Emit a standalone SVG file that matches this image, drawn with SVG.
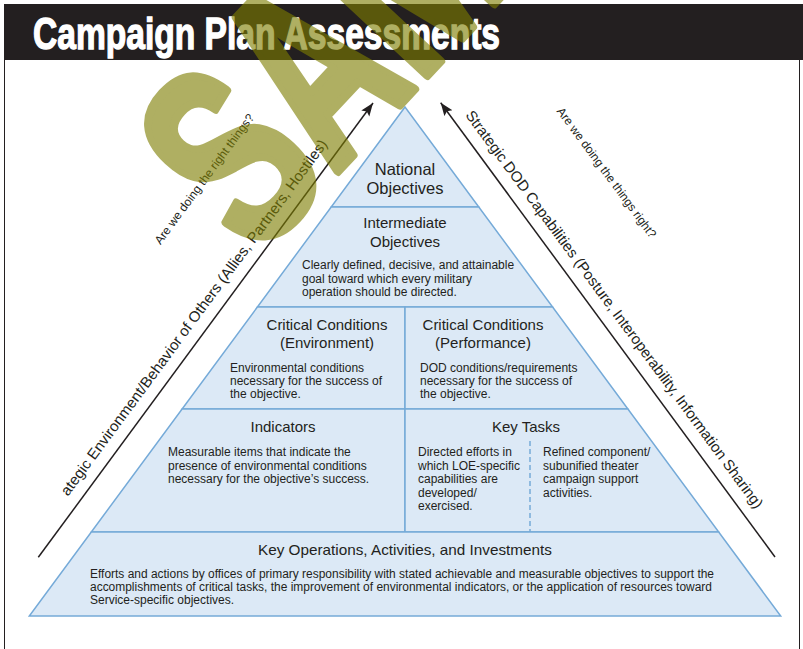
<svg xmlns="http://www.w3.org/2000/svg" width="803" height="649" viewBox="0 0 803 649">
<style>
.sec{fill:#dce9f6;stroke:#75aad8;stroke-width:1.5;stroke-linejoin:miter}
.hd{font-family:"Liberation Sans",Arial,sans-serif;font-size:15px;fill:#231f20;text-anchor:middle}
.ds{font-family:"Liberation Sans",Arial,sans-serif;font-size:12px;fill:#231f20}
.ax{font-family:"Liberation Sans",Arial,sans-serif;font-size:15px;fill:#231f20}
.q{font-family:"Liberation Sans",Arial,sans-serif;font-size:12px;fill:#231f20}
.arr{stroke:#231f20;stroke-width:1.5;fill:none;marker-end:url(#ah)}
</style>
<defs>
<marker id="ah" markerUnits="userSpaceOnUse" markerWidth="14" markerHeight="12" refX="13" refY="5" orient="auto">
<path d="M0,0 L13,5 L0,10 L2.5,5 z" fill="#231f20"/>
</marker>
</defs>
<rect width="803" height="649" fill="#ffffff"/>
<g id="frame">
<rect x="4" y="4" width="799" height="56" fill="#231f20"/>
<line x1="4.5" y1="60" x2="4.5" y2="649" stroke="#231f20" stroke-width="1"/>
<line x1="799.5" y1="60" x2="799.5" y2="649" stroke="#231f20" stroke-width="1"/>
<text x="33" y="49" font-family="'Liberation Sans',Arial,sans-serif" font-weight="bold" font-size="45" fill="#ffffff" stroke="#ffffff" stroke-width="1.4" textLength="467" lengthAdjust="spacingAndGlyphs">Campaign Plan Assessments</text>
</g>
<g id="national">
<polygon class="sec" points="405,107 331.2,207 478.8,207"/>
<text class="hd" x="405" y="175" style="font-size:16.5px">National</text>
<text class="hd" x="405" y="194" style="font-size:16.5px">Objectives</text>
</g>
<g id="intermediate">
<polygon class="sec" points="331.2,207 478.8,207 552.6,307 257.4,307"/>
<text class="hd" x="405" y="228">Intermediate</text>
<text class="hd" x="405" y="247">Objectives</text>
<text class="ds" x="302" y="269">Clearly defined, decisive, and attainable</text>
<text class="ds" x="302" y="282.5">goal toward which every military</text>
<text class="ds" x="302" y="296">operation should be directed.</text>
</g>
<g id="cc-environment">
<polygon class="sec" points="257.4,307 405,307 405,409 182.1,409"/>
<text class="hd" x="327" y="330">Critical Conditions</text>
<text class="hd" x="327" y="348">(Environment)</text>
<text class="ds" x="230" y="372">Environmental conditions</text>
<text class="ds" x="230" y="385">necessary for the success of</text>
<text class="ds" x="230" y="397.5">the objective.</text>
</g>
<g id="cc-performance">
<polygon class="sec" points="405,307 552.6,307 627.9,409 405,409"/>
<text class="hd" x="483" y="330">Critical Conditions</text>
<text class="hd" x="483" y="348">(Performance)</text>
<text class="ds" x="420" y="372">DOD conditions/requirements</text>
<text class="ds" x="420" y="385">necessary for the success of</text>
<text class="ds" x="420" y="397.5">the objective.</text>
</g>
<g id="indicators">
<polygon class="sec" points="182.1,409 405,409 405,532 91.3,532"/>
<text class="hd" x="283" y="432">Indicators</text>
<text class="ds" x="168" y="456">Measurable items that indicate the</text>
<text class="ds" x="168" y="469.5">presence of environmental conditions</text>
<text class="ds" x="168" y="483">necessary for the objective’s success.</text>
</g>
<g id="key-tasks">
<polygon class="sec" points="405,409 627.9,409 718.7,532 405,532"/>
<line x1="530" y1="441" x2="530" y2="532" stroke="#75aad8" stroke-width="1.5" stroke-dasharray="5,3"/>
<text class="hd" x="526" y="432">Key Tasks</text>
<text class="ds" x="418" y="456">Directed efforts in</text>
<text class="ds" x="418" y="469.5">which LOE-specific</text>
<text class="ds" x="418" y="483">capabilities are</text>
<text class="ds" x="418" y="496.5">developed/</text>
<text class="ds" x="418" y="510">exercised.</text>
<text class="ds" x="543" y="456">Refined component/</text>
<text class="ds" x="543" y="469.5">subunified theater</text>
<text class="ds" x="543" y="483">campaign support</text>
<text class="ds" x="543" y="496.5">activities.</text>
</g>
<g id="key-operations">
<polygon class="sec" points="91.3,532 718.7,532 780.7,616 29.3,616"/>
<text class="hd" x="405" y="555" textLength="294" lengthAdjust="spacingAndGlyphs">Key Operations, Activities, and Investments</text>
<text class="ds" x="90" y="578" textLength="624" lengthAdjust="spacingAndGlyphs">Efforts and actions by offices of primary responsibility with stated achievable and measurable objectives to support the</text>
<text class="ds" x="90" y="591" textLength="622" lengthAdjust="spacingAndGlyphs">accomplishments of critical tasks, the improvement of environmental indicators, or the application of resources toward</text>
<text class="ds" x="90" y="603.5">Service-specific objectives.</text>
</g>
<g id="connectors">
<line class="arr" x1="38.3" y1="557.3" x2="373" y2="103"/>
<line class="arr" x1="775" y1="557" x2="440.7" y2="102.7"/>
</g>
<g id="left-axis">
<text class="ax" transform="translate(68.1,496.7) rotate(-53.6)" textLength="438" lengthAdjust="spacingAndGlyphs">ategic Environment/Behavior of Others (Allies, Partners, Hostiles)</text>
<text class="q" transform="translate(160.4,245.3) rotate(-53.6)">Are we doing the right things?</text>
</g>
<g id="right-axis">
<text class="ax" transform="translate(464.9,115.2) rotate(53.6)" textLength="490" lengthAdjust="spacingAndGlyphs">Strategic DOD Capabilities (Posture, Interoperability, Information Sharing)</text>
<text class="q" transform="translate(556.3,111.2) rotate(53.6)">Are we doing the things right?</text>
</g>
<g id="watermark" opacity="0.61">
<text transform="translate(256,259) rotate(-47) scale(0.66,1)" font-family="'Liberation Sans',Arial,sans-serif" font-weight="bold" font-size="260" fill="#7d7d00" stroke="#7d7d00" stroke-width="9" stroke-linejoin="round">SAMPLE</text>
</g>
</svg>
